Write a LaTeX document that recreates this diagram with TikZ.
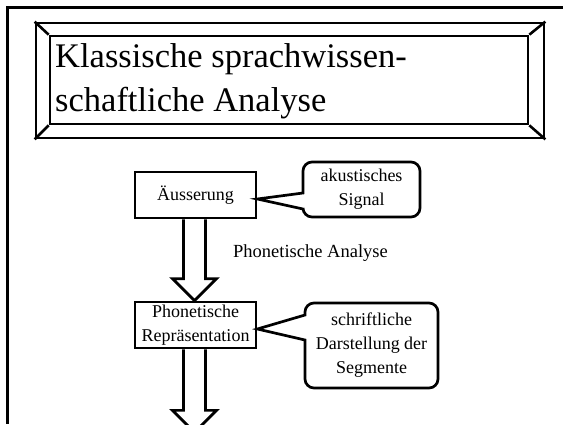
\documentclass[tikz,border=0pt]{standalone}
\usepackage{fontspec}
\setmainfont{Liberation Serif}
\usetikzlibrary{calc}
\begin{document}
\begin{tikzpicture}[x=1pt,y=-1pt,line join=miter,
  frame/.style={line width=3pt},
  box/.style={draw,line width=2.7pt,inner sep=0pt},
  bevel/.style={line width=2.6pt},
  txt/.style={font=\fontsize{18}{24}\selectfont,align=center},
  bubble/.style={line width=2.7pt},
  arrowbody/.style={line width=2.7pt},
  cbox/.style={inner sep=0pt,outer sep=0pt}]
\useasboundingbox (0,0) rectangle (563,424);
% page frame
\coordinate (fr1) at (563,7);
\coordinate (fr2) at (7,7);
\coordinate (fr3) at (7,424);
\draw[frame] (fr1) -- (fr2) -- (fr3);
% title plate
\node[box,minimum width=478pt,minimum height=88pt] (tin) at (289,80) {};
\node[box,minimum width=508pt,minimum height=115pt] (tout) at (290,80.5) {};
\draw[bevel] (tout.north west) -- (tin.north west);
\draw[bevel] (tout.north east) -- (tin.north east);
\draw[bevel] (tout.south west) -- (tin.south west);
\draw[bevel] (tout.south east) -- (tin.south east);
\node[anchor=west,inner sep=0pt,align=left,font=\fontsize{34.5}{44}\selectfont] (ttext) at (55,81) {Klassische sprachwissen-\\schaftliche Analyse};
% boxes
\node[box,txt,minimum width=121pt,minimum height=46pt] (a) at (195.5,195) {Äusserung};
\node[box,txt,minimum width=121pt,minimum height=46pt] (p) at (195.5,325) {Phonetische\\Repräsentation};
% callouts
\node[cbox,txt,minimum width=117pt,minimum height=55pt] (c1) at (361.5,189.5) {akustisches\\Signal};
\draw[bubble] ($(a.east)+(0,4)$) -- ($(c1.north west)+(0,31)$)
  [rounded corners=9pt] -- (c1.north west) -- (c1.north east) -- (c1.south east) -- (c1.south west)
  [sharp corners] -- ($(c1.south west)+(0,-8)$) -- cycle;
\node[cbox,txt,minimum width=133pt,minimum height=85pt] (c2) at (371.5,345.5) {schriftliche\\Darstellung der\\Segmente};
\draw[bubble] ($(p.east)+(0,4)$) -- ($(c2.north west)+(0,12)$)
  [rounded corners=9pt] -- (c2.north west) -- (c2.north east) -- (c2.south east) -- (c2.south west)
  [sharp corners] -- ($(c2.south west)+(0,-48)$) -- cycle;
% label
\node[anchor=west,inner sep=0pt,font=\fontsize{18.5}{24}\selectfont] (lab) at (233,253) {Phonetische Analyse};
% block arrows
\draw[arrowbody] ($(a.south)+(-12,0)$) -- ($(p.north)+(-12,-22)$) -- ($(p.north)+(-23,-22)$)
  -- ($(p.north)+(-1,0)$) -- ($(p.north)+(21,-22)$) -- ($(p.north)+(10,-22)$) -- ($(a.south)+(10,0)$);
\coordinate (end) at ($(p.south)+(-1,83)$);
\draw[arrowbody] ($(p.south)+(-12,0)$) -- ($(end)+(-11,-22)$) -- ($(end)+(-22,-22)$)
  -- (end) -- ($(end)+(22,-22)$) -- ($(end)+(11,-22)$) -- ($(p.south)+(10,0)$);
\end{tikzpicture}
\end{document}
